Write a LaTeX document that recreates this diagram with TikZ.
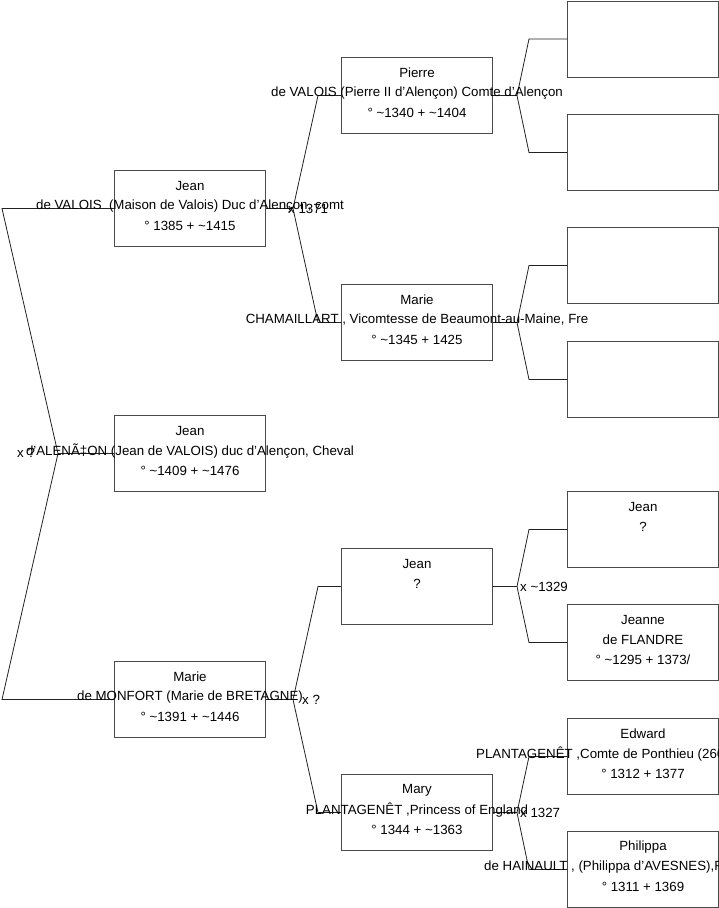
\documentclass[tikz,border=0pt]{standalone}
\usepackage{fontspec}
\setmainfont{Liberation Sans}
\definecolor{boxgray}{HTML}{4A4A4A}
\definecolor{linegray}{HTML}{222222}
\newcommand\boxlines[4]{%
  \node (#1-l1) at ([yshift=-16pt]#1.north) {#2};
  \node (#1-l2) at ([yshift=-36pt]#1.north) {#3};
  \node (#1-l3) at ([yshift=-56pt]#1.north) {#4};}
\begin{document}
\begin{tikzpicture}[x=1pt,y=-1pt,
  every node/.style={font=\fontsize{13.3}{16}\selectfont, inner sep=0pt, text=black},
  pbox/.style={draw=boxgray, line width=1pt, minimum width=151pt, minimum height=76pt, anchor=north west},
  conn/.style={draw=linegray, line width=0.8pt},
  mlab/.style={anchor=west}]
\useasboundingbox (0,0) rectangle (719,908);
\clip (0,0) rectangle (719,908);
% boxes
\node[pbox] (root) at (114,415) {};
\node[pbox] (jean1) at (114,170) {};
\node[pbox] (marie1) at (114,661) {};
\node[pbox] (pierre) at (341,57) {};
\node[pbox] (marie2) at (341,284) {};
\node[pbox] (jean2) at (341,548) {};
\node[pbox] (mary) at (341,774) {};
\node[pbox] (ga) at (567,0.5) {};
\node[pbox] (gb) at (567,114) {};
\node[pbox] (gc) at (567,227) {};
\node[pbox] (gd) at (567,341) {};
\node[pbox] (ge) at (567,491) {};
\node[pbox] (gf) at (567,604) {};
\node[pbox] (gg) at (567,718) {};
\node[pbox] (gh) at (567,831) {};
% connectors
\draw[conn] (root.west) -- ++(-56,0) coordinate (fk0) -- ([xshift=-112pt]jean1.west) -- (jean1.west);
\draw[conn] (fk0) -- ([xshift=-112pt]marie1.west) -- (marie1.west);
\draw[conn] (jean1.east) -- ++(27,0) coordinate (fk1) -- ([xshift=-23pt]pierre.west) -- (pierre.west);
\draw[conn] (fk1) -- ([xshift=-23pt]marie2.west) -- (marie2.west);
\draw[conn] (marie1.east) -- ++(27,0) coordinate (fk2) -- ([xshift=-23pt]jean2.west) -- (jean2.west);
\draw[conn] (fk2) -- ([xshift=-23pt]mary.west) -- (mary.west);
\draw[conn] (pierre.east) -- ++(24,0) coordinate (fk3) -- ([xshift=-38pt]ga.west) -- (ga.west);
\draw[conn] (fk3) -- ([xshift=-38pt]gb.west) -- (gb.west);
\draw[conn] (marie2.east) -- ++(24,0) coordinate (fk4) -- ([xshift=-38pt]gc.west) -- (gc.west);
\draw[conn] (fk4) -- ([xshift=-38pt]gd.west) -- (gd.west);
\draw[conn] (jean2.east) -- ++(24,0) coordinate (fk5) -- ([xshift=-38pt]ge.west) -- (ge.west);
\draw[conn] (fk5) -- ([xshift=-38pt]gf.west) -- (gf.west);
\draw[conn] (mary.east) -- ++(24,0) coordinate (fk6) -- ([xshift=-38pt]gg.west) -- (gg.west);
\draw[conn] (fk6) -- ([xshift=-38pt]gh.west) -- (gh.west);
% texts
\boxlines{root}{Jean}{d'ALENÃ‡ON (Jean de VALOIS) duc d'Alençon, Cheval}{° \char`\~1409 + \char`\~1476}
\boxlines{jean1}{Jean}{de VALOIS\ \ (Maison de Valois) Duc d'Alençon, comt}{° 1385 + \char`\~1415}
\boxlines{marie1}{Marie}{de MONFORT (Marie de BRETAGNE)}{° \char`\~1391 + \char`\~1446}
\boxlines{pierre}{Pierre}{de VALOIS (Pierre II d'Alençon) Comte d'Alençon}{° \char`\~1340 + \char`\~1404}
\boxlines{marie2}{Marie}{CHAMAILLART , Vicomtesse de Beaumont-au-Maine, Fre}{° \char`\~1345 + 1425}
\boxlines{jean2}{Jean}{?}{}
\boxlines{mary}{Mary}{PLANTAGENÊT ,Princess of England}{° 1344 + \char`\~1363}
\boxlines{ge}{Jean}{?}{}
\boxlines{gf}{Jeanne}{de FLANDRE}{° \char`\~1295 + 1373/}
\node (gg-l1) at ([yshift=-16pt]gg.north) {Edward};
\node[anchor=west] (gg-l2) at (476,754) {PLANTAGENÊT ,Comte de Ponthieu (266};
\node (gg-l3) at ([yshift=-56pt]gg.north) {° 1312 + 1377};
\node (gh-l1) at ([yshift=-16pt]gh.north) {Philippa};
\node[anchor=west] (gh-l2) at (484,867) {de HAINAULT , (Philippa d'AVESNES),Re};
\node (gh-l3) at ([yshift=-56pt]gh.north) {° 1311 + 1369};
% marriage labels
\node[mlab] (x0) at (17,453) {x ?};
\node[mlab] (x1) at ([xshift=-5pt]fk1) {x 1371};
\node[mlab] (x2) at ([xshift=9pt]fk2) {x ?};
\node[mlab] (x5) at ([xshift=3pt]fk5) {x \char`\~1329};
\node[mlab] (x6) at ([xshift=3pt]fk6) {x 1327};
\end{tikzpicture}
\end{document}
